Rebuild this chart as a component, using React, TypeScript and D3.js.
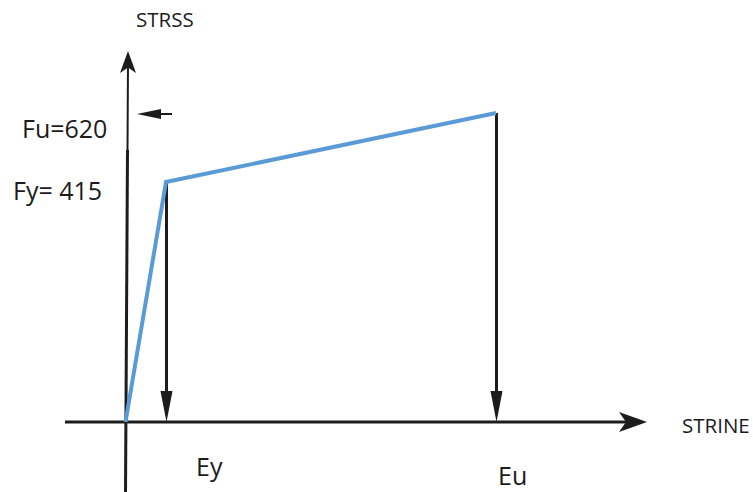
import * as d3 from 'd3';

// Stress values (MPa) and strain values used in the sketch
const stressLevels = [0, 415, 620];
const strainLevels = [0, 0.002, 0.1];
const curveStrain = [0, 0.002, 0.1];
const curveStress = [0, 415, 620];
const stressLabels = ['Fy= 415', 'Fu=620'];
const strainLabels = ['Ey', 'Eu'];
const axisTitles = { x: 'STRINE', y: 'STRSS' };

const W = 753;
const H = 492;
const FONT = '"Open Sans", "Noto Sans", sans-serif';
const INK = '#1c1c1c';
const BLUE = '#5b9bd5';

export default function App() {
  // the sketch is not drawn to scale, so both scales are polylinear
  const x = d3.scaleLinear().domain(strainLevels).range([125.5, 166, 496]);
  const y = d3.scaleLinear().domain(stressLevels).range([422, 182, 113]);

  const pts = curveStrain.map((s, i) => [s, curveStress[i]] as [number, number]);
  const line = d3
    .line<[number, number]>()
    .x((d) => x(d[0]))
    .y((d) => y(d[1]));

  const y0 = y(0);
  const xEnd = 647;
  const yTop = 51;

  // arrow head polygon pointing in a direction
  const head = (tx: number, ty: number, dir: 'up' | 'down' | 'left' | 'right', len: number, half: number) => {
    if (dir === 'up') return `M${tx},${ty} L${tx - half},${ty + len} L${tx},${ty + len * 0.75} L${tx + half},${ty + len} Z`;
    if (dir === 'down') return `M${tx},${ty} L${tx - half},${ty - len} L${tx + half},${ty - len} Z`;
    if (dir === 'left') return `M${tx},${ty} L${tx + len},${ty - half} L${tx + len},${ty + half} Z`;
    return `M${tx},${ty} L${tx - len},${ty - half} L${tx - len * 0.75},${ty} L${tx - len},${ty + half} Z`;
  };

  return (
    <div style={{ position: 'absolute', left: 0, top: 0 }}>
      <svg width={W} height={H} style={{ display: 'block', background: '#fff' }}>
        {/* x axis */}
        <line x1={65} x2={xEnd - 10} y1={y0} y2={y0} stroke={INK} strokeWidth={3} />
        <path d={head(xEnd, y0, 'right', 28, 10)} fill={INK} />

        {/* y axis */}
        <line x1={128} x2={127.5} y1={yTop + 10} y2={150} stroke={INK} strokeWidth={2} />
        <line x1={127.5} x2={125.5} y1={150} y2={H} stroke={INK} strokeWidth={3} />
        <path d={head(128, yTop, 'up', 22, 8)} fill={INK} />

        {/* small arrow pointing at Fu */}
        <line x1={150} x2={172} y1={y(620) + 1} y2={y(620) + 1} stroke={INK} strokeWidth={2} />
        <path d={head(137, y(620) + 1, 'left', 24, 5)} fill={INK} />

        {/* drop lines from yield and ultimate points */}
        {curveStrain.slice(1).map((s, i) => {
          const cx = x(s) + 0.5;
          return (
            <g key={i}>
              <line x1={cx} x2={cx} y1={y(curveStress[i + 1])} y2={y0 - 20} stroke={INK} strokeWidth={3} />
              <path d={head(cx, y0, 'down', 31, 6)} fill={INK} />
            </g>
          );
        })}

        {/* stress-strain curve */}
        <path d={line(pts) ?? ''} fill="none" stroke={BLUE} strokeWidth={4} strokeLinejoin="miter" />

        {/* labels */}
        <g fontFamily={FONT} fill={INK}>
          <text x={136} y={27} fontSize={20.5}>{axisTitles.y}</text>
          <text x={682} y={433} fontSize={20.5}>{axisTitles.x}</text>
          <text x={22} y={y(620) + 25} fontSize={25}>{stressLabels[1]}</text>
          <text x={13} y={y(415) + 18} fontSize={25}>{stressLabels[0]}</text>
          <text x={x(0.002) + 30} y={476} fontSize={25}>{strainLabels[0]}</text>
          <text x={x(0.1) + 2} y={485} fontSize={25}>{strainLabels[1]}</text>
        </g>
      </svg>
    </div>
  );
}
